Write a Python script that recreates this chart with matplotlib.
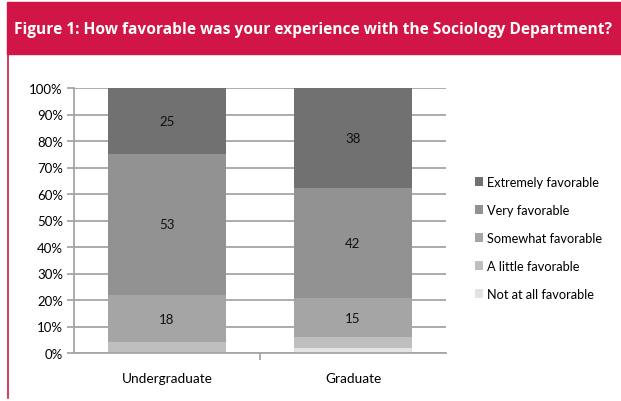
import numpy as np
import matplotlib
matplotlib.use("Agg")
import matplotlib.pyplot as plt
from matplotlib.patches import Rectangle
from matplotlib.lines import Line2D

groups = ["Undergraduate", "Graduate"]
levels = ["Not at all favorable", "A little favorable", "Somewhat favorable",
          "Very favorable", "Extremely favorable"]
not_at_all = [0, 2]
a_little = [4, 4]
somewhat = [18, 15]
very = [53, 42]
extremely = [25, 38]
colors = ["#e3e3e3", "#bfbfbf", "#a5a5a5", "#929292", "#717171"]

title = "Figure 1: How favorable was your experience with the Sociology Department?"

plt.rcParams['font.family'] = ['Lato', 'DejaVu Sans']

W, H = 621, 402
fig = plt.figure(figsize=(W / 100, H / 100), dpi=100)

# red header and left rule
red = "#d21547"
fig.patches.append(Rectangle((7 / W, 1 - 55 / H), 1, 52 / H, transform=fig.transFigure,
                             color=red, zorder=0))
fig.lines.append(Line2D([8 / W, 8 / W], [1 - 55 / H, 1 - 399 / H], transform=fig.transFigure,
                        color=red, lw=1.2))
fig.text(14 / W, 1 - 30 / H, title, color="white", fontsize=11.2, fontweight="bold",
         family=['Open Sans', 'DejaVu Sans'], va="center", ha="left")

ax = fig.add_axes([74 / W, (H - 354) / H, (446 - 74) / W, (354 - 89) / H])

series = [not_at_all, a_little, somewhat, very, extremely]
data = np.array(series, dtype=float)
totals = data.sum(axis=0)
pct = data / totals * 100
x = np.arange(len(groups))
bottom = np.zeros(len(groups))
for i, lab in enumerate(levels):
    ax.bar(x, pct[i], 0.634, bottom=bottom, color=colors[i], label=lab, zorder=2)
    for j in range(len(groups)):
        if data[i, j] >= 10:
            ax.text(x[j], bottom[j] + pct[i, j] / 2, f"{int(data[i, j])}",
                    ha="center", va="center", fontsize=9.5, color="#111111", zorder=3)
    bottom += pct[i]

ax.set_xlim(-0.5, 1.5)
ax.set_ylim(0, 100)
ax.set_yticks(np.arange(0, 101, 10))
ax.set_yticklabels([f"{v}%" for v in range(0, 101, 10)], fontsize=9.5)
ax.yaxis.grid(True, color="#a6a6a6", lw=1.3, zorder=0)
ax.set_axisbelow(True)
ax.set_xticks(x)
ax.set_xticklabels(groups, fontsize=9.8)
ax.tick_params(axis="x", length=0, pad=14)
ax.tick_params(axis="y", length=5, color="#a6a6a6", width=1.3, pad=3)
ax.set_xticks([0.5], minor=True)
ax.tick_params(axis="x", which="minor", length=5, color="#a6a6a6", width=1.3)
for s in ["top", "right"]:
    ax.spines[s].set_visible(False)
for s in ["left", "bottom"]:
    ax.spines[s].set_color("#a6a6a6")
    ax.spines[s].set_linewidth(1.3)

handles, labels = ax.get_legend_handles_labels()
fig.legend(handles[::-1], labels[::-1], loc="center left",
           bbox_to_anchor=(463 / W, 1 - 239 / H), frameon=False, fontsize=9.2,
           handlelength=0.7, handleheight=0.7, handletextpad=0.25, labelspacing=1.25)

fig.savefig("out.png", dpi=100)
